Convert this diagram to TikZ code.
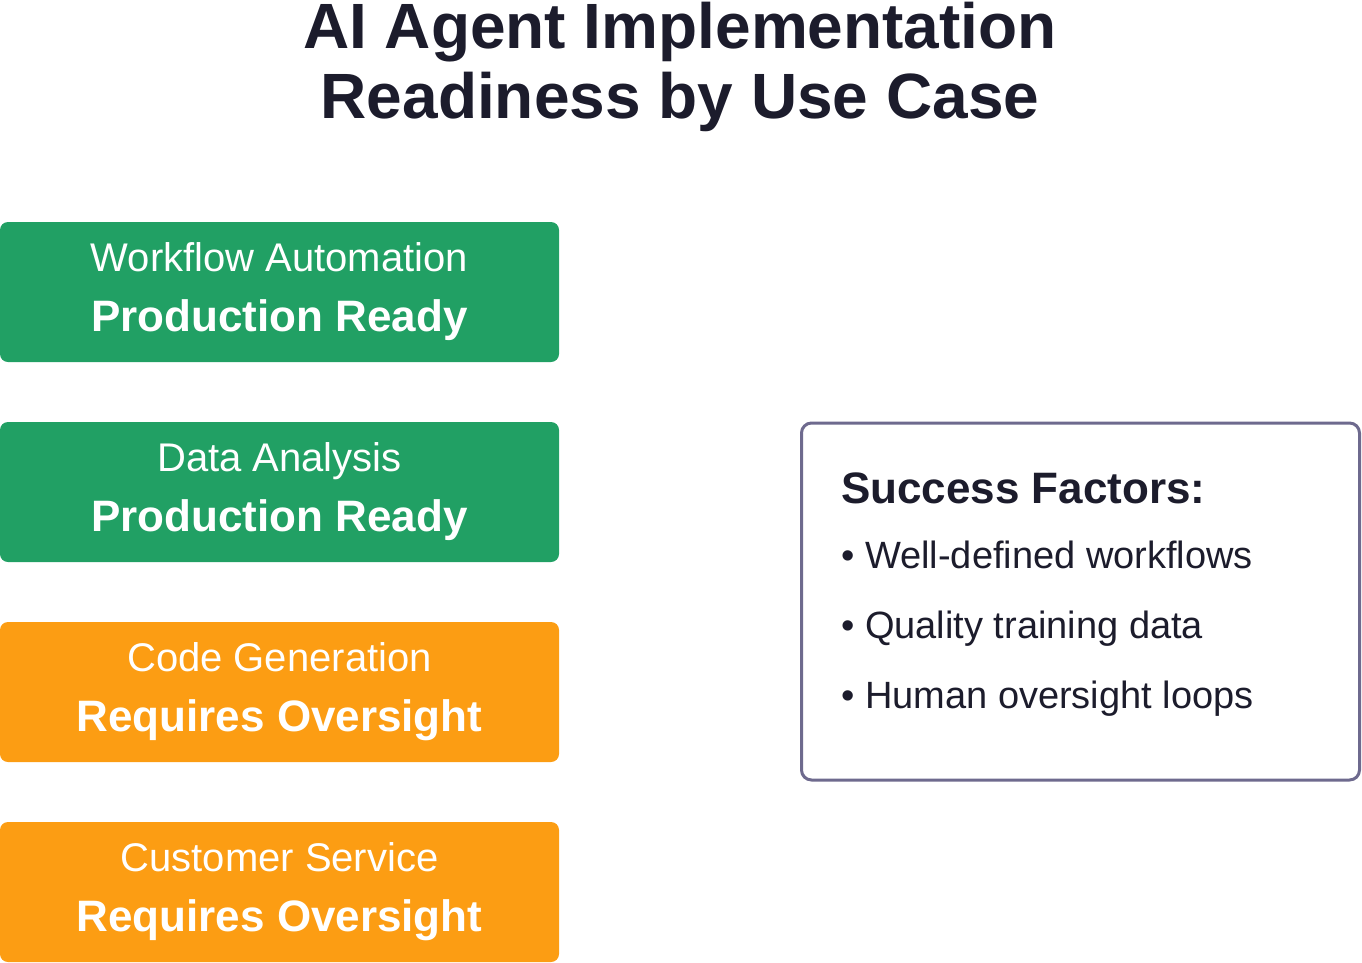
\documentclass[tikz,border=0pt]{standalone}
\usepackage{fontspec}
\setmainfont{Liberation Sans}
\usepackage{xcolor}
\usetikzlibrary{positioning}

\definecolor{readygreen}{HTML}{21A064}
\definecolor{warnorange}{HTML}{FC9D13}
\definecolor{inkdark}{HTML}{1C1C2C}
\definecolor{panelline}{HTML}{6E6A8E}

\begin{document}
\begin{tikzpicture}[x=1pt, y=-1pt,
  node distance=60pt,
  usecase/.style={rectangle, rounded corners=8pt, minimum width=559pt,
              minimum height=140pt, outer sep=0pt, inner sep=0pt, align=center,
              text=white, font=\fontsize{40}{60}\selectfont},
  ready/.style={usecase, fill=readygreen},
  oversight/.style={usecase, fill=warnorange},
  panel/.style={draw=panelline, line width=3pt, rounded corners=10pt, fill=white,
              minimum width=558pt, minimum height=357pt, outer sep=0pt},
  factor/.style={anchor=base west, inner sep=0pt, text=inkdark,
              font=\fontsize{38}{46}\selectfont},
  heading/.style={factor, font=\fontsize{44}{52}\selectfont\bfseries}]
\useasboundingbox (0,0) rectangle (1362,962);
% title
\node[anchor=base, inner sep=0pt, text=inkdark, font=\fontsize{64}{70}\selectfont\bfseries]
  (title1) at (680,48) {AI Agent Implementation};
\node[anchor=base, inner sep=0pt, text=inkdark, font=\fontsize{64}{70}\selectfont\bfseries]
  (title2) at (680,118) {Readiness by Use Case};
% use cases
\node[ready] (wf) at (279.5,292) {Workflow Automation\\{\fontsize{44}{60}\selectfont\bfseries Production Ready}};
\node[ready, below=of wf] (da) {Data Analysis\\{\fontsize{44}{60}\selectfont\bfseries Production Ready}};
\node[oversight, below=of da] (cg) {Code Generation\\{\fontsize{44}{60}\selectfont\bfseries Requires Oversight}};
\node[oversight, below=of cg] (cs) {Customer Service\\{\fontsize{44}{60}\selectfont\bfseries Requires Oversight}};
% success factors
\node[panel] (sf) at (1080.5,601.5) {};
\node[heading] (sfhead) at (841,503) {Success Factors:};
\node[factor] (f1) at (841,568) {• Well-defined workflows};
\node[factor] (f2) at (841,638) {• Quality training data};
\node[factor] (f3) at (841,708) {• Human oversight loops};
\end{tikzpicture}
\end{document}
